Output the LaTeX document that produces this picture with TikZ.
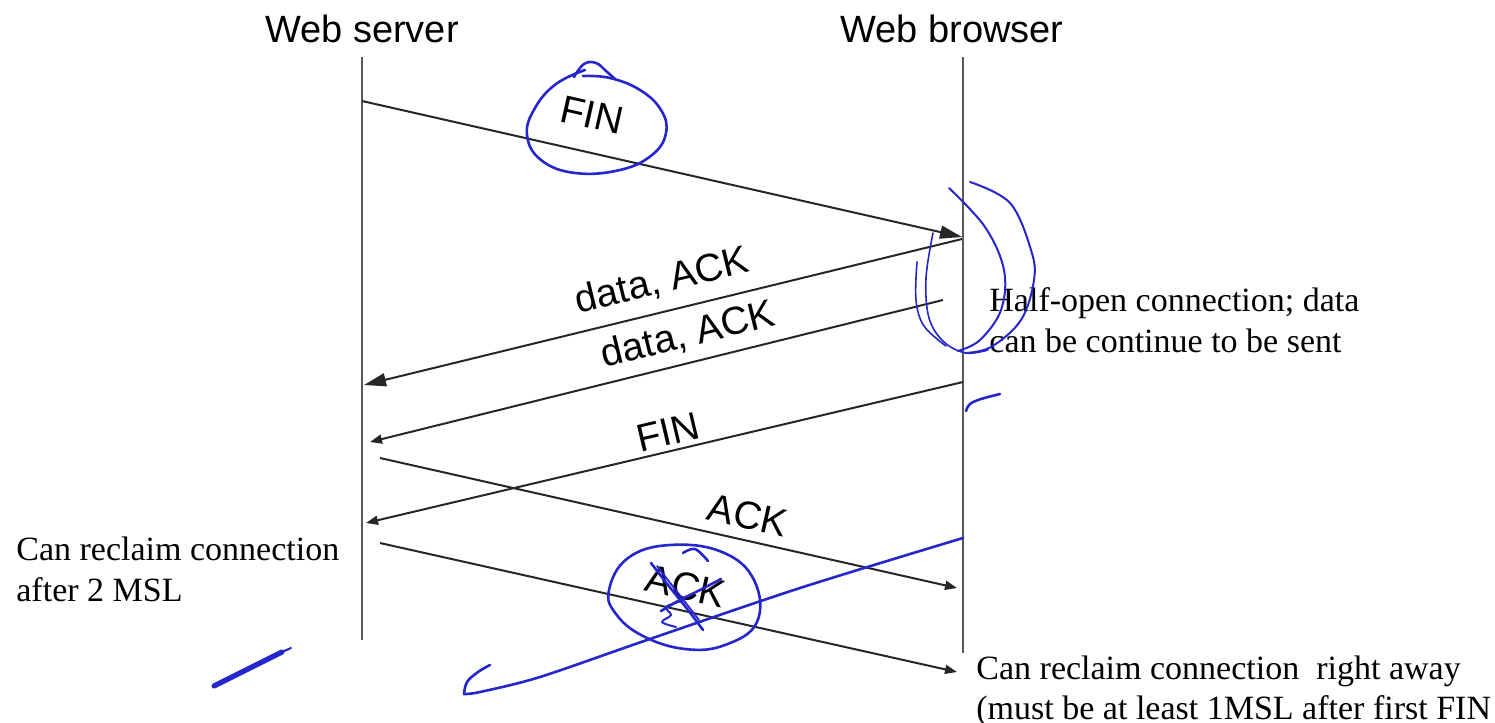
\documentclass[tikz,border=0pt]{standalone}
\usepackage{fontspec}
\setmainfont{Liberation Serif}
\newfontfamily\arialfont{Liberation Sans}
\usetikzlibrary{arrows.meta}
\definecolor{ink}{RGB}{38,38,205}

\begin{document}
\begin{tikzpicture}[x=0.5pt,y=-0.5pt,
  lifeline/.style={draw=black!65, line width=1.2pt},
  msg/.style={draw=black!85, line width=1pt, -{Triangle[length=6pt,width=4.5pt]}},
  bigmsg/.style={draw=black!85, line width=1pt, -{Triangle[length=11pt,width=6.5pt]}},
  head/.style={font=\arialfont\fontsize{19}{23}\selectfont, inner sep=0pt},
  lbl/.style={font=\arialfont\fontsize{19.5}{23}\selectfont, inner sep=0pt},
  note/.style={font=\fontsize{17}{20.5}\selectfont, inner sep=0pt, align=left},
  pen/.style={draw=ink, line width=1.3pt, line cap=round, line join=round},
  thinpen/.style={draw=ink, line width=0.8pt, line cap=round, line join=round},
]
\useasboundingbox[fill=white] (0,0) rectangle (1495,723);

% participants
\node[head, anchor=base] (server) at (362,42) {Web server};
\node[head, anchor=base] (browser) at (952,42) {Web browser};

% lifelines
\coordinate (sTop) at (362,57);
\coordinate (sBot) at (362,640);
\coordinate (bTop) at (963,57);
\coordinate (bBot) at (963,653);
\draw[lifeline] (sTop) -- (sBot);
\draw[lifeline] (bTop) -- (bBot);

% message end points
\coordinate (f1a) at (362,101);  \coordinate (f1b) at (962,237);
\coordinate (d1a) at (962,239);  \coordinate (d1b) at (364,385);
\coordinate (d2a) at (943,300);  \coordinate (d2b) at (370,442);
\coordinate (f2a) at (963,382);  \coordinate (f2b) at (366,523);
\coordinate (k1a) at (380,458);  \coordinate (k1b) at (957,588);
\coordinate (k2a) at (380,543);  \coordinate (k2b) at (957,672);

% messages
\draw[bigmsg] (f1a) -- (f1b);
\draw[bigmsg] (d1a) -- (d1b);
\draw[msg] (d2a) -- (d2b);
\draw[msg] (f2a) -- (f2b);
\draw[msg] (k1a) -- (k1b);
\draw[msg] (k2a) -- (k2b);

% message labels
\node[lbl, rotate=-12.8] (finA) at (592,115) {FIN};
\node[lbl, rotate=13.7] (dataA) at (662,281) {data, ACK};
\node[lbl, rotate=13.9] (dataB) at (688,335) {data, ACK};
\node[lbl, rotate=13.3] (finB) at (668,432) {FIN};
\node[lbl, rotate=-12.7] (ackA) at (748,515) {ACK};
\node[lbl, rotate=-12.6] (ackB) at (686,586) {ACK};

% side notes
\node[note, anchor=north west] (halfopen) at (989,287)
  {Half-open connection; data\\can be continue to be sent};
\node[note, anchor=north west] (reclaimS) at (16,537)
  {Can reclaim connection\\after 2 MSL};
\node[note, anchor=north west] (reclaimB) at (976,655)
  {Can reclaim connection\ \ right away\\(must be at least 1MSL after first FIN};

% handwritten marks: loop round the first FIN
\draw[pen] plot[smooth, tension=0.7] coordinates
  {(585,70) (556,84) (535,108) (527,135) (541,160) (575,173) (620,170) (652,155) (666,133) (661,110) (640,90) (610,78) (583,76)};
\draw[pen] plot[smooth, tension=0.7] coordinates
  {(574,77) (584,64) (596,63) (606,71) (615,79)};

% brackets beside the browser lifeline
\draw[thinpen, line width=1pt] plot[smooth, tension=0.6] coordinates
  {(970,182) (1010,203) (1031,250) (1034,280) (1021,320) (991,347) (965,353)};
\draw[thinpen, line width=1pt] plot[smooth, tension=0.6] coordinates
  {(949,188) (985,227) (1004,270) (1001,310) (980,340) (958,351)};
\draw[thinpen] plot[smooth, tension=0.6] coordinates
  {(933,233) (926,278) (929,318) (944,342) (966,353) (988,350)};
\draw[thinpen] plot[smooth, tension=0.6] coordinates
  {(917,262) (916,300) (924,326) (946,346)};

% tick under the bracket
\draw[pen] plot[smooth, tension=0.6] coordinates
  {(966,411) (970,404) (981,399) (1000,394)};

% stroke lower left
\draw[ink, line width=2.6pt, line cap=round] (214,686) -- (282,652);
\draw[ink, line width=1pt, line cap=round] (282,652) -- (291,648);

% loop and cross over the last ACK
\draw[pen] plot[smooth cycle, tension=0.7] coordinates
  {(609,590) (628,558) (670,545) (722,552) (754,580) (757,622) (725,645) (685,649) (643,636) (616,614)};
\draw[pen] plot[smooth, tension=0.6] coordinates {(683,553) (695,549) (708,561)};
\draw[pen] plot[smooth, tension=0.5] coordinates {(651,563) (668,585) (688,610) (703,630)};
\draw[pen, line width=0.9pt] (657,566) -- (699,620);
\draw[pen] plot[smooth, tension=0.5] coordinates {(721,579) (700,590) (678,601) (661,611)};
\draw[pen, line width=1pt] plot[smooth, tension=0.6] coordinates
  {(682,601) (666,607) (671,615) (662,622) (676,627)};

% long stroke from the browser lifeline with a hook
\draw[pen] plot[smooth, tension=0.5] coordinates
  {(963,538) (800,588) (647,640) (540,677) (480,692) (464,694)};
\draw[pen] plot[smooth, tension=0.6] coordinates
  {(464,694) (467,682) (478,672) (490,665)};
\end{tikzpicture}
\end{document}
